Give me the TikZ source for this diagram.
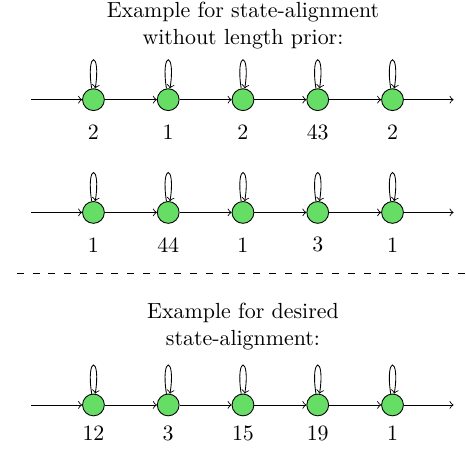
\documentclass[tikz,border=0pt]{standalone}
\usepackage{xcolor}
\usepackage{tikz}
\usetikzlibrary{calc}

\definecolor{stategreen}{RGB}{102,222,102}

\begin{document}
\begin{tikzpicture}[
    state/.style={circle, draw=black, fill=stategreen, minimum size=0.35cm,
      inner sep=0pt},
    count/.style={font=\normalsize, inner sep=1pt},
    selfloop/.style={out=99, in=81, looseness=1, min distance=0.62cm},
    title/.style={align=center, font=\normalsize}
  ]
  \useasboundingbox (0,0) rectangle (7.48,7.22);

  % ── Title (top) ─────────────────────────────────────────
  \node[title] (t1) at (3.9,6.81)
    {Example for state-alignment\\without length prior:};

  % ── Row 1 ───────────────────────────────────────────────
  \begin{scope}[shift={(0,5.62)}]
    % States
    \node[state] (a1) at (1.5,0) {};
    \node[state] (a2) at (2.7,0) {};
    \node[state] (a3) at (3.9,0) {};
    \node[state] (a4) at (5.1,0) {};
    \node[state] (a5) at (6.3,0) {};
    % Durations
    \node[count] (a1n) at (1.5,-0.52) {2};
    \node[count] (a2n) at (2.7,-0.52) {1};
    \node[count] (a3n) at (3.9,-0.52) {2};
    \node[count] (a4n) at (5.1,-0.52) {43};
    \node[count] (a5n) at (6.3,-0.52) {2};
    % Transitions
    \coordinate (ain) at (0.5,0);
    \coordinate (aout) at (7.28,0);
    \draw[->] (ain) -- (a1);
    \draw[->] (a1) -- (a2);
    \draw[->] (a2) -- (a3);
    \draw[->] (a3) -- (a4);
    \draw[->] (a4) -- (a5);
    \draw[->] (a5) -- (aout);
    % Self-loops
    \draw[->] (a1) to[selfloop] (a1);
    \draw[->] (a2) to[selfloop] (a2);
    \draw[->] (a3) to[selfloop] (a3);
    \draw[->] (a4) to[selfloop] (a4);
    \draw[->] (a5) to[selfloop] (a5);
  \end{scope}

  % ── Row 2 ───────────────────────────────────────────────
  \begin{scope}[shift={(0,3.81)}]
    \node[state] (b1) at (1.5,0) {};
    \node[state] (b2) at (2.7,0) {};
    \node[state] (b3) at (3.9,0) {};
    \node[state] (b4) at (5.1,0) {};
    \node[state] (b5) at (6.3,0) {};
    \node[count] (b1n) at (1.5,-0.52) {1};
    \node[count] (b2n) at (2.7,-0.52) {44};
    \node[count] (b3n) at (3.9,-0.52) {1};
    \node[count] (b4n) at (5.1,-0.52) {3};
    \node[count] (b5n) at (6.3,-0.52) {1};
    \coordinate (bin) at (0.5,0);
    \coordinate (bout) at (7.28,0);
    \draw[->] (bin) -- (b1);
    \draw[->] (b1) -- (b2);
    \draw[->] (b2) -- (b3);
    \draw[->] (b3) -- (b4);
    \draw[->] (b4) -- (b5);
    \draw[->] (b5) -- (bout);
    \draw[->] (b1) to[selfloop] (b1);
    \draw[->] (b2) to[selfloop] (b2);
    \draw[->] (b3) to[selfloop] (b3);
    \draw[->] (b4) to[selfloop] (b4);
    \draw[->] (b5) to[selfloop] (b5);
  \end{scope}

  % ── Separator ───────────────────────────────────────────
  \coordinate (sepl) at (0.27,2.83);
  \coordinate (sepr) at (7.48,2.83);
  \draw[dash pattern=on 3.2pt off 4pt] (sepl) -- (sepr);

  % ── Title (bottom) ──────────────────────────────────────
  \node[title] (t2) at (3.9,1.98)
    {Example for desired\\state-alignment:};

  % ── Row 3 ───────────────────────────────────────────────
  \begin{scope}[shift={(0,0.72)}]
    \node[state] (c1) at (1.5,0) {};
    \node[state] (c2) at (2.7,0) {};
    \node[state] (c3) at (3.9,0) {};
    \node[state] (c4) at (5.1,0) {};
    \node[state] (c5) at (6.3,0) {};
    \node[count] (c1n) at (1.5,-0.46) {12};
    \node[count] (c2n) at (2.7,-0.46) {3};
    \node[count] (c3n) at (3.9,-0.46) {15};
    \node[count] (c4n) at (5.1,-0.46) {19};
    \node[count] (c5n) at (6.3,-0.46) {1};
    \coordinate (cin) at (0.5,0);
    \coordinate (cout) at (7.28,0);
    \draw[->] (cin) -- (c1);
    \draw[->] (c1) -- (c2);
    \draw[->] (c2) -- (c3);
    \draw[->] (c3) -- (c4);
    \draw[->] (c4) -- (c5);
    \draw[->] (c5) -- (cout);
    \draw[->] (c1) to[selfloop] (c1);
    \draw[->] (c2) to[selfloop] (c2);
    \draw[->] (c3) to[selfloop] (c3);
    \draw[->] (c4) to[selfloop] (c4);
    \draw[->] (c5) to[selfloop] (c5);
  \end{scope}
\end{tikzpicture}
\end{document}
